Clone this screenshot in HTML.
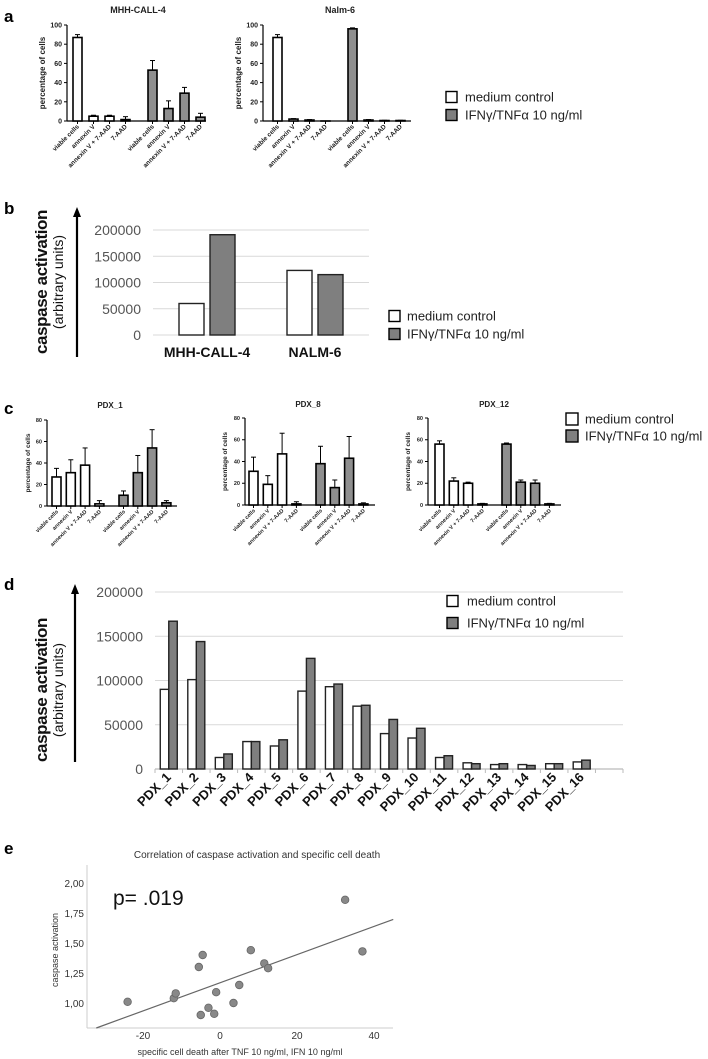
<!DOCTYPE html>
<html><head><meta charset="utf-8">
<style>
html,body{margin:0;padding:0;background:#fff;}
svg{display:block;font-family:"Liberation Sans",sans-serif;}
</style></head>
<body>
<svg id="fig" width="708" height="1059" viewBox="0 0 708 1059" xmlns="http://www.w3.org/2000/svg">
<g font-weight="bold" font-size="17">
<text x="4" y="22">a</text>
<text x="4" y="214">b</text>
<text x="4" y="414">c</text>
<text x="4" y="590">d</text>
<text x="4" y="854">e</text>
</g>
</svg>
<script>
// ---- data ----
const smallCats = ["viable cells","annexin V","annexin V + 7-AAD","7-AAD"];
const mhhCtrl = [87,5,5,1.5];
const mhhCtrlErr = [3,1,1,3];
const mhhTrt = [53,13,29,4];
const mhhTrtErr = [10,8,6,4];
const nalmCtrl = [87,2,1,0];
const nalmCtrlErr = [3,0.5,0.5,0];
const nalmTrt = [96,1,0.5,0.5];
const nalmTrtErr = [1,0.5,0.2,0.2];
const aTicks = [0,20,40,60,80,100];
const pdx1Ctrl = [27,31,38,2];
const pdx1CtrlErr = [8,12,16,3];
const pdx1Trt = [10,31,54,3];
const pdx1TrtErr = [4,16,17,2];
const pdx8Ctrl = [31,19,47,1];
const pdx8CtrlErr = [13,8,19,2];
const pdx8Trt = [38,16,43,1];
const pdx8TrtErr = [16,7,20,1];
const pdx12Ctrl = [56,22,20,1];
const pdx12CtrlErr = [3,3,1,0.5];
const pdx12Trt = [56,21,20,1];
const pdx12TrtErr = [1,2,3,0.5];
const cTicks = [0,20,40,60,80];
const bCats = ["MHH-CALL-4","NALM-6"];
const bCtrl = [60000,123000];
const bTrt = [191000,115000];
const bigTicks = [0,50000,100000,150000,200000];
const dCats = ["PDX_1","PDX_2","PDX_3","PDX_4","PDX_5","PDX_6","PDX_7","PDX_8","PDX_9","PDX_10","PDX_11","PDX_12","PDX_13","PDX_14","PDX_15","PDX_16"];
const dCtrl = [90000,101000,13000,31000,26000,88000,93000,71000,40000,35000,13000,7000,5000,5000,6000,8000];
const dTrt = [167000,144000,17000,31000,33000,125000,96000,72000,56000,46000,15000,6000,6000,4000,6000,10000];
const eX = [-24,-12,-11.5,-5.5,-4.5,-5,-3,-1.5,-1,3.5,5,8,11.5,12.5,32.5,37];
const eY = [1.01,1.04,1.08,1.30,1.40,0.90,0.96,0.91,1.09,1.00,1.15,1.44,1.33,1.29,1.86,1.43];
const eXTicks = [-20,0,20,40];
const eYTicks = [1.00,1.25,1.50,1.75,2.00];

const NS="http://www.w3.org/2000/svg";
const svg=document.getElementById('fig');
function mk(tag,attrs,parent){const e=document.createElementNS(NS,tag);for(const k in attrs)e.setAttribute(k,attrs[k]);(parent||svg).appendChild(e);return e;}
function txt(s,attrs,parent){const e=mk('text',attrs,parent);e.textContent=s;return e;}

function small(o){
  const g=mk('g',{});
  
  
  const y=v=>o.y0-(v/o.max)*(o.y0-o.yTop);
  const t=txt(o.title,{x:o.titleX,y:o.titleY,'text-anchor':'middle','font-size':o.tfs,'font-weight':'bold',fill:'#222'},g);
  
  
  const ax=mk('line',{x1:o.ax,y1:o.yTop,x2:o.ax,y2:o.y0,stroke:'#000','stroke-width':1.2},g);
  
  
  const xa=mk('line',{x1:o.ax,y1:o.y0,x2:o.xEnd,y2:o.y0,stroke:'#000','stroke-width':1.2},g);
  
  
  o.ticks.forEach(v=>{
    mk('line',{x1:o.ax-3,y1:y(v),x2:o.ax,y2:y(v),stroke:'#000','stroke-width':1},g);
    const tl=txt(String(v),{x:o.ax-5,y:y(v)+o.fs*0.35,'text-anchor':'end','font-size':o.fs,'font-weight':'bold',fill:'#222'},g);
    
    
  });
  const yl=txt('percentage of cells',{transform:`translate(${o.ylX},${(o.y0+o.yTop)/2}) rotate(-90)`,'text-anchor':'middle','font-size':o.yfs,'font-weight':'bold',fill:'#222'},g);
  
  
  const series=[[o.ctrl,o.ctrlErr,'#fff'],[o.trt,o.trtErr,'#8f8f8f']];
  series.forEach((s,si)=>{
    s[0].forEach((v,i)=>{
      const left=o.first+si*o.gap+i*o.sp;
      const cx=left+o.bw/2;
      const top=y(s[1][i]+v);
      mk('line',{x1:cx,y1:y(v),x2:cx,y2:top,stroke:'#000','stroke-width':1},g);
      mk('line',{x1:cx-2.5,y1:top,x2:cx+2.5,y2:top,stroke:'#000','stroke-width':1},g);
      const b=mk('rect',{x:left,y:y(v),width:o.bw,height:Math.max(0.01,o.y0-y(v)),fill:s[2],stroke:'#000','stroke-width':1.6},g);
      
      
      mk('line',{x1:cx,y1:o.y0,x2:cx,y2:o.y0+3,stroke:'#000','stroke-width':1},g);
      const cl=txt(smallCats[i],{transform:`translate(${cx+2},${o.y0+6}) rotate(-45)`,'text-anchor':'end','font-size':o.cfs,'font-weight':'bold',fill:'#222'},g);
      
      
    });
  });
}
small({name:'chart-mhh-call-4',title:'MHH-CALL-4',titleX:138,titleY:13,tfs:9,ax:67,yTop:25,y0:121,max:100,ticks:aTicks,fs:7,yfs:8,ylX:45,cfs:6.5,xEnd:206,first:73,sp:16,gap:75,bw:9,ctrl:mhhCtrl,ctrlErr:mhhCtrlErr,trt:mhhTrt,trtErr:mhhTrtErr});
small({name:'chart-nalm-6',title:'Nalm-6',titleX:340,titleY:13,tfs:9,ax:263,yTop:25,y0:121,max:100,ticks:aTicks,fs:7,yfs:8,ylX:241,cfs:6.5,xEnd:411,first:273,sp:16,gap:75,bw:9,ctrl:nalmCtrl,ctrlErr:nalmCtrlErr,trt:nalmTrt,trtErr:nalmTrtErr});
small({name:'chart-pdx-1',title:'PDX_1',titleX:110,titleY:408,tfs:8,ax:47,yTop:420,y0:506,max:80,ticks:cTicks,fs:5.5,yfs:6.5,ylX:30,cfs:5.5,xEnd:177,first:52,sp:14.3,gap:67,bw:9,ctrl:pdx1Ctrl,ctrlErr:pdx1CtrlErr,trt:pdx1Trt,trtErr:pdx1TrtErr});
small({name:'chart-pdx-8',title:'PDX_8',titleX:308,titleY:407,tfs:8,ax:245,yTop:418,y0:505,max:80,ticks:cTicks,fs:5.5,yfs:6.5,ylX:227,cfs:5.5,xEnd:375,first:249,sp:14.3,gap:67,bw:9,ctrl:pdx8Ctrl,ctrlErr:pdx8CtrlErr,trt:pdx8Trt,trtErr:pdx8TrtErr});
small({name:'chart-pdx-12',title:'PDX_12',titleX:494,titleY:407,tfs:8,ax:428,yTop:418,y0:505,max:80,ticks:cTicks,fs:5.5,yfs:6.5,ylX:410,cfs:5.5,xEnd:561,first:435,sp:14.3,gap:67,bw:9,ctrl:pdx12Ctrl,ctrlErr:pdx12CtrlErr,trt:pdx12Trt,trtErr:pdx12TrtErr});

function legend(name,x,y1,y2,sq,fs,tx){
  const g=mk('g',{});
  
  
  const r1=mk('rect',{x:x,y:y1-sq/2,width:sq,height:sq,fill:'#fff',stroke:'#000','stroke-width':1.4},g);
  
  
  const t1=txt('medium control',{x:tx,y:y1+fs*0.35,'font-size':fs,fill:'#222'},g);
  
  
  const r2=mk('rect',{x:x,y:y2-sq/2,width:sq,height:sq,fill:'#7f7f7f',stroke:'#000','stroke-width':1.4},g);
  
  
  const t2=txt('IFNγ/TNFα 10 ng/ml',{x:tx,y:y2+fs*0.35,'font-size':fs,fill:'#222'},g);
  
  
}
legend('legend-a',446,97,115,11,13,465);
legend('legend-b',389,316,334,11,13,407);
legend('legend-c',566,419,436,12,13,585);
legend('legend-d',447,601,623,11,13,467);

function yLabel(cx,cy,top,bot,ax){
  const a=mk('line',{x1:ax,y1:bot,x2:ax,y2:top+8,stroke:'#000','stroke-width':2.2});
  
  
  const h=mk('polygon',{points:`${ax-4},${top+10} ${ax},${top} ${ax+4},${top+10}`,fill:'#000'});
  
  
  const t=txt('caspase activation',{transform:`translate(${cx},${cy}) rotate(-90)`,'text-anchor':'middle','font-size':17,'font-weight':'bold','letter-spacing':'-0.4',fill:'#111'});
  
  
  const t2=txt('(arbitrary units)',{transform:`translate(${cx+16},${cy}) rotate(-90)`,'text-anchor':'middle','font-size':14,fill:'#111'});
  
  
}
function big(o){
  const g=mk('g',{});
  
  
  const y=v=>o.y0-(v/200000)*(o.y0-o.yTop);
  bigTicks.forEach(v=>{
    const gl=mk('line',{x1:o.ax,y1:y(v),x2:o.xEnd,y2:y(v),stroke:'#d9d9d9','stroke-width':1},g);
    
    
    const tl=txt(String(v),{x:o.ax-12,y:y(v)+5,'text-anchor':'end','font-size':14,fill:'#555'},g);
    
    
  });
  const slot=(o.xEnd-o.ax)/o.slots;
  if(o.axisTicks){
    const xa=mk('line',{x1:o.ax,y1:o.y0,x2:o.xEnd,y2:o.y0,stroke:'#bbb','stroke-width':1.2},g);
    
    
    for(let i=0;i<=o.slots;i++) mk('line',{x1:o.ax+i*slot,y1:o.y0,x2:o.ax+i*slot,y2:o.y0+4,stroke:'#bbb','stroke-width':1},g);
  }
  o.cats.forEach((c,i)=>{
    const cx=o.ax+(i+0.5)*slot;
    const b1=mk('rect',{x:cx-o.bw-o.gapIn/2,y:y(o.ctrl[i]),width:o.bw,height:o.y0-y(o.ctrl[i]),fill:'#fff',stroke:'#222','stroke-width':1.4},g);
    
    
    const b2=mk('rect',{x:cx+o.gapIn/2,y:y(o.trt[i]),width:o.bw,height:o.y0-y(o.trt[i]),fill:'#7f7f7f',stroke:'#222','stroke-width':1.4},g);
    
    
    let cl;
    if(o.rot) cl=txt(c,{transform:`translate(${cx+3},${o.y0+9}) rotate(-45)`,'text-anchor':'end','font-size':13,'font-weight':'bold',fill:'#111'},g);
    else cl=txt(c,{x:cx,y:o.y0+22,'text-anchor':'middle','font-size':14,'font-weight':'bold',fill:'#111'},g);
    
    
  });
}
yLabel(47,282,207,357,77);
big({name:'chart-b',ax:153,xEnd:369,yTop:230,y0:335,slots:2,cats:bCats,ctrl:bCtrl,trt:bTrt,bw:25,gapIn:6,rot:false,axisTicks:false});
yLabel(47,690,584,762,75);
big({name:'chart-d',ax:155,xEnd:623,yTop:592,y0:769,slots:17,cats:dCats,ctrl:dCtrl,trt:dTrt,bw:8.5,gapIn:0,rot:true,axisTicks:true});

(function(){
  const g=mk('g',{});
  
  
  const L=87,R=393,T=865,B=1028;
  const xs=v=>220+v*3.85;
  const ys=v=>1003-(v-1)*120;
  const t=txt('Correlation of caspase activation and specific cell death',{x:257,y:858,'text-anchor':'middle','font-size':10,fill:'#333'},g);
  
  
  const ya=mk('line',{x1:L,y1:T,x2:L,y2:B,stroke:'#ccc','stroke-width':1},g);
  
  
  const xa=mk('line',{x1:L,y1:B,x2:R,y2:B,stroke:'#ccc','stroke-width':1},g);
  
  
  eYTicks.forEach(v=>{
    const tl=txt(v.toFixed(2).replace('.',','),{x:L-3,y:ys(v)+4,'text-anchor':'end','font-size':10,fill:'#333'},g);
    
    
  });
  eXTicks.forEach(v=>{
    const tl=txt(String(v),{x:xs(v),y:1039,'text-anchor':'middle','font-size':10,fill:'#333'},g);
    
    
  });
  const xt=txt('specific cell death after TNF 10 ng/ml, IFN 10 ng/ml',{x:240,y:1055,'text-anchor':'middle','font-size':9,fill:'#333'},g);
  
  
  const yt=txt('caspase activation',{transform:`translate(58,950) rotate(-90)`,'text-anchor':'middle','font-size':9,fill:'#333'},g);
  
  
  const p=txt('p= .019',{x:113,y:905,'font-size':21,fill:'#111'},g);
  
  
  const n=eX.length;let mx=0,my=0;for(let i=0;i<n;i++){mx+=eX[i];my+=eY[i];}mx/=n;my/=n;
  let sxy=0,sxx=0;for(let i=0;i<n;i++){sxy+=(eX[i]-mx)*(eY[i]-my);sxx+=(eX[i]-mx)**2;}
  const sl=sxy/sxx,ic=my-sl*mx;
  const xmin=-34.7,xmax=45;
  let x0=xmin; if(ys(ic+sl*x0)>B){x0=((1003-B)/120+1-ic)/sl;}
  const fl=mk('line',{x1:xs(x0),y1:ys(ic+sl*x0),x2:xs(xmax),y2:ys(ic+sl*xmax),stroke:'#666','stroke-width':1.2},g);
  
  
  eX.forEach((v,i)=>{
    const c=mk('circle',{cx:xs(v),cy:ys(eY[i]),r:3.8,fill:'#888',stroke:'#666','stroke-width':0.8},g);
    
    
  });
})();
</script>
</body></html>
